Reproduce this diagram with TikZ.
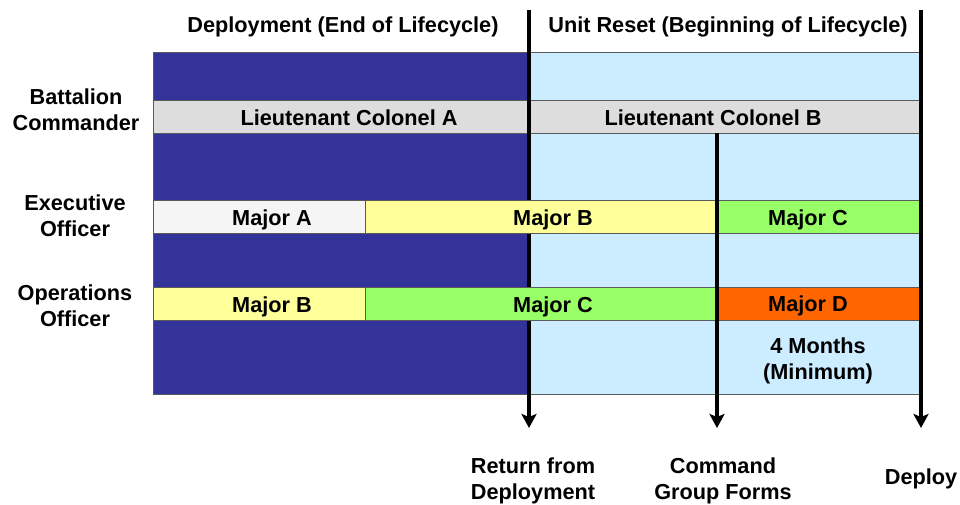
\documentclass[tikz,border=0pt]{standalone}
\usepackage{fontspec}
\setmainfont{Liberation Sans}
\usetikzlibrary{arrows.meta}
\definecolor{deploy}{HTML}{333399}
\definecolor{reset}{HTML}{CCECFF}
\definecolor{ltcgray}{HTML}{DDDDDD}
\definecolor{majwhite}{HTML}{F5F5F5}
\definecolor{majyellow}{HTML}{FFFF99}
\definecolor{majgreen}{HTML}{99FF66}
\definecolor{majorange}{HTML}{FF6600}
\definecolor{edge}{HTML}{5A5A5A}
\begin{document}
\begin{tikzpicture}[x=1pt,y=-1pt,
  every node/.style={font=\fontsize{21.7}{26}\selectfont\bfseries, text=black},
  region/.style={draw=edge, line width=1pt, inner sep=0pt, anchor=north west},
  cell/.style={draw=edge, line width=1pt, inner sep=0pt, anchor=north west, minimum height=33pt},
  celltext/.style={anchor=base, inner sep=0pt},
  label/.style={align=center, inner sep=0pt},
  milestone/.style={line width=3.6pt, -{Stealth[length=14pt,width=15pt,inset=3pt]}}
]
\path[use as bounding box, fill=white] (0,0) rectangle (960,504);

% phase backgrounds
\node[region, fill=deploy, minimum width=376pt, minimum height=342pt] (dep) at (153,52) {};
\node[region, fill=reset, minimum width=392pt, minimum height=342pt] (rst) at (529,52) {};

% battalion commander row
\node[cell, fill=ltcgray, minimum width=376pt] (ltca) at (153,100) {};
\node[cell, fill=ltcgray, minimum width=392pt] (ltcb) at (529,100) {};
\node[celltext] (ltcatext) at (349,125) {Lieutenant Colonel A};
\node[celltext] (ltcbtext) at (713,125) {Lieutenant Colonel B};

% return from deployment: runs under the staff rows
\coordinate (t1) at (529,10);
\coordinate (b1) at (529,428);
\draw[milestone] (t1) -- (b1);

% executive officer row
\node[cell, fill=majwhite, minimum width=212pt] (xoa) at (153,200) {};
\node[cell, fill=majyellow, minimum width=352pt] (xob) at (365,200) {};
\node[cell, fill=majgreen, minimum width=204pt] (xoc) at (717,200) {};
\node[celltext] (xoatext) at (272,225) {Major A};
\node[celltext] (xobtext) at (553,225) {Major B};
\node[celltext] (xoctext) at (808,225) {Major C};

% operations officer row
\node[cell, fill=majyellow, minimum width=212pt] (s3b) at (153,287) {};
\node[cell, fill=majgreen, minimum width=352pt] (s3c) at (365,287) {};
\node[cell, fill=majorange, minimum width=204pt] (s3d) at (717,287) {};
\node[celltext] (s3btext) at (272,312) {Major B};
\node[celltext] (s3ctext) at (553,312) {Major C};
\node[celltext] (s3dtext) at (808,311) {Major D};

\node[label] (minimum) at (818,361) {4 Months\\(Minimum)};

% phase headers
\node[label] (hdep) at (343,27) {Deployment (End of Lifecycle)};
\node[label] (hrst) at (728,27) {Unit Reset (Beginning of Lifecycle)};

% position labels
\node[label] (bc) at (76,110) {Battalion\\Commander};
\node[label] (xo) at (75,216) {Executive\\Officer};
\node[label] (s3) at (75,306) {Operations\\Officer};

% milestone labels
\node[label] (ret) at (533,481) {Return from\\Deployment};
\node[label] (cgf) at (723,481) {Command\\Group Forms};
\node[label] (dpl) at (921,479) {Deploy};

% remaining milestone lines, drawn over the rows
\coordinate (t2) at (717,133);
\coordinate (b2) at (717,428);
\coordinate (t3) at (921,10);
\coordinate (b3) at (921,428);
\draw[milestone] (t2) -- (b2);
\draw[milestone] (t3) -- (b3);
\end{tikzpicture}
\end{document}
